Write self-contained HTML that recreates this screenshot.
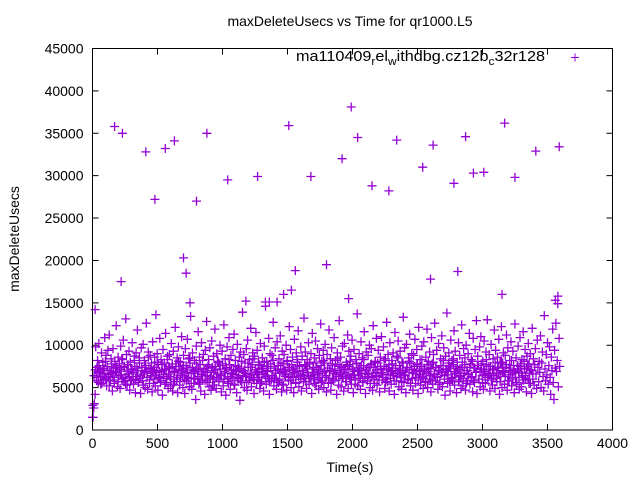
<!DOCTYPE html>
<html><head><meta charset="utf-8"><title>maxDeleteUsecs vs Time</title>
<style>
html,body{margin:0;padding:0;background:#fff;}
svg{display:block;font-family:"Liberation Sans",sans-serif;}
</style></head>
<body>
<svg id="chart" width="640" height="480" viewBox="0 0 640 480" xmlns="http://www.w3.org/2000/svg">
<text x="350" y="26" font-size="14" text-anchor="middle">maxDeleteUsecs vs Time for qr1000.L5</text>
<text transform="translate(19,239) rotate(-90)" font-size="14" text-anchor="middle">maxDeleteUsecs</text>
<text x="350" y="472" font-size="14" text-anchor="middle">Time(s)</text>
<g id="ticks"></g>
<g id="points"></g>
<rect x="92.5" y="48.5" width="520" height="381.5" fill="none" stroke="#000" stroke-width="1"/>
<g>
<text x="296" y="61" font-size="15" textLength="249" lengthAdjust="spacingAndGlyphs">ma110409<tspan font-size="11" dy="4">r</tspan><tspan dy="-4">el</tspan><tspan font-size="11" dy="4">w</tspan><tspan dy="-4">ithdbg.cz12b</tspan><tspan font-size="11" dy="4">c</tspan><tspan dy="-4">32r128</tspan></text>
<path d="M571,57.5h8M575,53.5v8" stroke="#9400d3" stroke-width="1"/>
</g>
</svg>
<script>
const xTicks=[0,500,1000,1500,2000,2500,3000,3500,4000];
const yTicks=[0,5000,10000,15000,20000,25000,30000,35000,40000,45000];
const sampleInterval=4.93;
const values=[
1500,1500,2600,3100,4200,9800,6200,7400,8200,5600,10200,6800,7100,5400,9100,6600,8000,5900,7200,10900,
6100,8800,5200,7500,9400,6300,11200,7000,5800,8400,6700,4600,9600,7300,5500,8100,6900,12300,7600,5100,
8600,6400,7800,4900,9900,7100,6000,8300,10600,5700,7400,6200,13100,8900,5300,7700,6600,9300,4700,8000,
7200,5900,10300,6800,5400,8700,7500,4400,9100,6300,11800,7000,5600,8500,6100,4300,9700,7400,5800,10100,
6600,8200,5000,7600,12600,6900,4800,9200,7300,5500,8800,6400,7900,4500,10400,7100,6000,8600,5200,13600,
6800,9000,4700,7700,6200,10800,5600,8300,7000,4100,9500,6500,7900,5400,11400,7200,6100,8700,4900,7500,
8900,6300,5200,10200,7400,4600,9300,6800,5700,12100,7800,6000,8500,4400,9800,7100,5300,8000,6600,11000,
7300,5000,8800,6400,4300,9600,7600,5800,10700,6200,8400,5100,7900,13400,6700,4800,9100,7000,5500,8200,
6900,3600,9900,7300,6100,11600,5400,8600,7700,4600,10300,6500,5900,8900,7200,4200,9400,6800,12800,5600,
7500,8300,5100,9700,6300,4700,10500,7400,6000,8700,5300,11900,7100,4900,9000,6600,8100,5700,7800,10000,
6400,4500,9300,7600,5200,12400,6900,8400,4100,7300,9800,6100,5500,10900,7700,4800,8800,6700,5900,9500,
7000,11300,5300,8200,6500,4400,10100,7500,6200,8600,3500,9200,7200,5600,13900,6800,8900,5000,7900,6300,
9600,4700,10600,7400,5800,8300,6600,12000,5100,7700,9100,6000,4300,8700,7100,11500,5500,9400,6900,8000,
6200,4900,10200,7600,5700,8500,7300,4600,9900,6500,14600,5400,8100,7000,6100,10800,4200,9000,7800,5900,
8800,6400,12700,5200,7500,9700,6700,4800,10400,7200,5600,8400,6000,11100,7900,4500,9300,6800,5300,8900,
7100,6300,10000,4700,8200,7400,5800,12200,6600,9500,5000,7700,8600,6200,4400,10700,7300,5500,9100,6900,
8000,11700,5100,7600,6400,9800,4600,8700,7000,5700,13200,6100,9200,7500,4900,8300,6800,10300,5400,7800,
6300,9000,4300,11400,7200,5900,8500,6600,10500,5200,7400,9600,6000,4800,8800,7100,12500,5600,8100,6700,
9400,5000,7900,10100,6200,4500,8900,7300,5500,11800,6900,8400,4700,9700,7600,6100,5800,10900,7000,8200,
6500,4200,9100,7700,5300,12900,6800,8600,5100,7400,9900,6300,4600,10200,7200,5700,8000,6600,11200,4900,
9300,7500,6000,8700,5400,10600,7100,4400,9500,6900,5900,8300,7800,13700,5200,6400,9000,7300,4800,10400,
6700,8500,5600,7600,11600,6100,4300,9200,7000,5800,8800,6500,10000,5000,7700,9600,6200,4700,12300,7400,
5500,8100,6800,10800,5300,7900,9400,6300,4500,8600,7200,11000,5900,6600,9800,7500,4900,8400,6000,12700,
5700,8900,7100,4600,10300,6900,5400,8200,7800,9100,6400,4200,11500,7300,5800,8700,6700,10500,5100,7600,
9300,6200,4800,8000,7000,13300,5600,9700,6500,4400,10100,7400,5900,8500,6800,11300,5200,7900,9000,6100,
4700,8800,7200,10700,5500,6600,9500,7700,4300,12100,6900,8300,5300,7500,9900,6300,4900,10400,7100,5700,
8600,6700,11900,5000,8100,7300,9200,6000,4500,10900,7800,5400,8900,6500,12600,5800,7400,9400,6200,4800,
10200,7000,5600,8400,6800,11100,5100,7600,9700,6400,4100,8700,7200,13800,5500,6900,9100,7500,4600,10600,
6100,8200,5900,7700,11700,5300,9300,6600,4400,8000,7100,10300,5700,8800,6300,4900,12400,7400,5200,9600,
6700,8500,4700,10000,7000,5800,9000,6500,11400,5400,7800,8300,6200,4500,10800,7300,5600,9500,6800,12900,
4300,8700,7600,6000,9800,5100,11000,7200,6400,8100,4800,10500,6900,5500,9200,7700,13000,5900,6600,8900,
4600,7500,10100,6100,5300,8400,7100,11800,4900,9400,6700,5700,8600,7300,10700,4200,8000,6300,12200,5000,
7900,9100,6800,5400,8800,7400,11200,4700,9700,6500,5800,8200,7000,10400,5200,6600,9300,7600,4400,12500,
6200,8500,5600,7200,9900,6900,4800,10900,7800,5100,8300,6400,11600,5900,7300,9500,6100,4500,8700,7500,
10200,5500,6700,9000,7100,4300,12000,6000,8400,5300,7700,9600,6600,4900,10600,7400,5700,8100,6800,11100,
5000,7900,9200,6300,4600,13500,7200,5800,8900,6500,10300,5400,7600,9800,6200,4200,8600,7000,11900,5600,
3600,9400,7300,12600,6900,8200,14900,5100,10800,7500
];
const interval2=9.7;
const values2=[
2900,6400,7100,5800,6900,7600,6300,5500,7300,6700,8100,6000,7000,5200,6600,7800,6200,5900,7400,6800,
5700,7200,6500,8400,6100,7500,5400,6900,7700,6300,5800,7100,6600,8200,6000,7300,5600,7900,6400,7000,
5300,6800,7600,6200,8600,5900,7200,6700,5500,7400,6500,8000,6100,6900,5800,7700,6300,7100,5600,8300,
6600,7300,6000,7800,5400,6900,7500,6200,8100,5700,7000,6400,7600,5900,6800,7200,6100,8500,5500,7400,
6700,6000,7900,6300,7100,5600,6600,8200,6900,5800,7300,6400,7700,6100,7000,5300,6800,7500,6200,8000,
5900,7200,6500,7800,6000,6700,7400,5700,8300,6300,7100,6600,5400,7600,6900,6100,7300,5800,8100,6400,
7000,6700,5600,7900,6200,7400,6500,8400,5900,7100,6800,6000,7700,5500,7200,6600,8000,6300,6900,7500,
5700,7300,6400,8200,6100,7000,5800,7600,6700,7200,5400,7800,6500,6900,8100,6200,7400,5900,6600,7100,
6800,5600,8300,6300,7500,6000,7000,6600,7700,5700,7200,6400,8000,6100,6800,7400,5500,7900,6500,7100,
6200,7600,5800,8200,6900,6400,7300,6000,7000,5600,7800,6700,7200,6300,8400,5900,7500,6600,6100,7100,
6800,5700,7700,6400,8100,6200,7300,6500,5400,7900,6900,7000,6100,7600,5800,8300,6600,7200,6300,7400,
5500,7800,6700,6000,8000,6400,7100,5900,7500,6800,6200,8200,5600,7300,6500,7700,6100,6900,7000,5800,
7600,6300,8500,6600,7200,5700,7900,6400,6800,7400,6000,8100,5500,7100,6700,7500,6200,7800,5900,7000,
6500,8300,6100,7300,5600,7700,6900,6400,7200,5800,8000,6600,7400,6300,7000,5400,7600,6800,8200,6000,
7100,6500,7900,5700,7300,6200,8400,6700,6900,7500,5900,7200,6400,8000,6100,7700,5500,7000,6600,7400,
6300,8100,5800,7300,6800,7600,6000,6900,7800,5600,7100,6500,8300,6200,7500,6700,5900,7200,6400,7900,
6100,7400,6600,5700,8000,6900,7000,6300,7700,5800,7300,6500,8200,6000,7100,6800,5400,7600,6200,7500,
6700,5900,8100,6400,7200,6000,7800,5500,7000,6600
];
const spikeTimes=[20,170,230,220,410,480,560,630,700,720,750,800,880,1040,1180,1270,1330,1360,1420,1470,1510,1530,1560,1680,1800,1920,1970,1990,2040,2150,2280,2340,2540,2600,2620,2780,2810,2870,2930,3010,3150,3170,3250,3410,3560,3590,3580];
const spikeValues=[14200,35800,35000,17500,32800,27200,33200,34100,20300,18500,15000,27000,35000,29500,15200,29900,15100,15100,15100,16000,35900,16500,18800,29900,19500,32000,15500,38100,34500,28800,28200,34200,31000,17800,33600,29100,18700,34600,30300,30400,16000,36200,29800,32900,15300,33400,15800];

const X0=92.5,X1=612.5,Y0=430,Y1=48.5,XMAX=4000,YMAX=45000;
const xs=v=>X0+(v/XMAX)*(X1-X0);
const ys=v=>Y0-(v/YMAX)*(Y0-Y1);
const NS='http://www.w3.org/2000/svg';
const tg=document.getElementById('ticks');
xTicks.forEach(t=>{
  const x=xs(t);
  const p=document.createElementNS(NS,'path');
  p.setAttribute('d',`M${x},${Y0}v-6M${x},${Y1}v6`);
  p.setAttribute('stroke','#000');
  
  
  tg.appendChild(p);
  const l=document.createElementNS(NS,'text');
  l.setAttribute('x',x);l.setAttribute('y',Y0+18);
  l.setAttribute('font-size','14');l.setAttribute('text-anchor','middle');
  
  
  l.textContent=t;tg.appendChild(l);
});
yTicks.forEach(t=>{
  const y=ys(t);
  const p=document.createElementNS(NS,'path');
  p.setAttribute('d',`M${X0},${y}h6M${X1},${y}h-6`);
  p.setAttribute('stroke','#000');
  
  
  tg.appendChild(p);
  const l=document.createElementNS(NS,'text');
  l.setAttribute('x',X0-9);l.setAttribute('y',y+5);
  l.setAttribute('font-size','14');l.setAttribute('text-anchor','end');
  
  
  l.textContent=t;tg.appendChild(l);
});
const pg=document.getElementById('points');
let d='';
const plus=(x,y)=>`M${(x-4.5).toFixed(1)},${y.toFixed(1)}h9M${x.toFixed(1)},${(y-4.5).toFixed(1)}v9`;
values.forEach((v,i)=>{ d+=plus(xs(i*sampleInterval),ys(v)); });
values2.forEach((v,i)=>{ d+=plus(xs(2.5+i*interval2),ys(v)); });
spikeTimes.forEach((t,i)=>{ d+=plus(xs(t),ys(spikeValues[i])); });
const pts=document.createElementNS(NS,'path');
pts.setAttribute('d',d);
pts.setAttribute('stroke','#9400d3');
pts.setAttribute('stroke-width','1.3');
pts.setAttribute('fill','none');


pg.appendChild(pts);
</script>
</body></html>
